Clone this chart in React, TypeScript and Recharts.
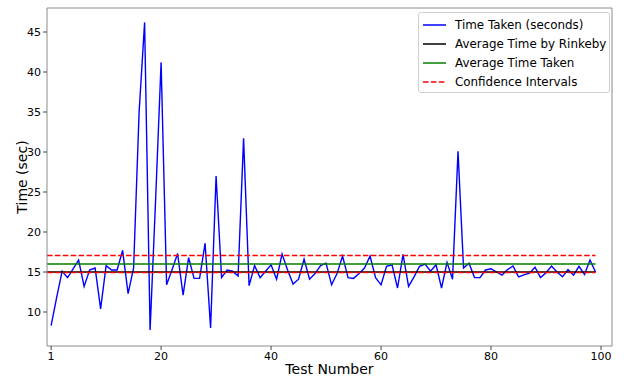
import React from "react";
import { LineChart, Line, XAxis, YAxis, ReferenceLine, Legend } from "recharts";

const testIndex: number[] = Array.from({ length: 100 }, (_, i) => i);

const timeTaken: number[] = [
  8.3, 11.8, 15.1, 14.3, 15.4, 16.5, 13.2, 15.25, 15.5, 10.4,
  15.8, 15.25, 15.25, 17.7, 12.3, 15.5, 35.0, 46.2, 7.75, 24.0,
  41.2, 13.4, 15.3, 17.3, 12.1, 16.8, 14.2, 14.2, 18.6, 8.0,
  27.0, 14.3, 15.25, 15.1, 14.5, 31.7, 13.3, 15.8, 14.3, 15.1,
  15.9, 14.1, 17.25, 15.25, 13.5, 14.1, 16.6, 14.1, 14.8, 15.8,
  16.1, 13.4, 14.8, 17.0, 14.3, 14.2, 14.8, 15.5, 17.0, 14.3,
  13.4, 15.7, 15.9, 13.0, 17.2, 13.2, 14.4, 15.7, 16.0, 15.1,
  15.9, 13.0, 16.2, 14.1, 30.1, 15.5, 16.1, 14.3, 14.3, 15.25,
  15.4, 15.0, 14.6, 15.3, 15.75, 14.4, 14.65, 14.85, 15.6, 14.3,
  14.9, 15.75, 15.0, 14.4, 15.3, 14.6, 15.7, 14.7, 16.5, 15.0,
];

const avgRinkeby = 15.0;
const avgTaken = 16.0;
const confLower = 14.93;
const confUpper = 17.07;

const xTicks: number[] = [0, 20, 40, 60, 80, 100];
const xTickLabels: string[] = ["1", "20", "40", "60", "80", "100"];
const yTicks: number[] = [10, 15, 20, 25, 30, 35, 40, 45];

const xDomain: [number, number] = [-0.75, 102];
const yDomain: [number, number] = [5.75, 48];

const DASH = "5.5 2.4";

const legendItems = [
  { label: "Time Taken (seconds)", color: "#0000ff", dash: undefined as string | undefined },
  { label: "Average Time by Rinkeby", color: "#000000", dash: undefined as string | undefined },
  { label: "Average Time Taken", color: "#008000", dash: undefined as string | undefined },
  { label: "Confidence Intervals", color: "#ff0000", dash: DASH },
];

const data = testIndex.map((x, i) => ({ x, time: timeTaken[i] }));

const FONT = "DejaVu Sans, sans-serif";
const SPINE = "#8c8c8c";

const LegendBox = () => (
  <div
    style={{
      boxSizing: "border-box",
      border: "1px solid #d0d0d0",
      borderRadius: 3,
      background: "rgba(255,255,255,0.85)",
      padding: "2px 4px 2px 4px",
      fontFamily: FONT,
      fontSize: 11.9,
      color: "#000",
      width: 192,
      height: 81,
      textAlign: "left",
    }}
  >
    {legendItems.map((it) => (
      <div key={it.label} style={{ display: "flex", alignItems: "center", height: 19 }}>
        <svg width={23} height={10} style={{ marginRight: 9, flexShrink: 0, display: "block" }}>
          <line x1={0} y1={5} x2={23} y2={5} stroke={it.color} strokeWidth={1.5} strokeDasharray={it.dash} />
        </svg>
        <span style={{ whiteSpace: "nowrap" }}>{it.label}</span>
      </div>
    ))}
  </div>
);

const YLabel = (props: any) => {
  const vb = props.viewBox || { x: 0, y: 8, width: 47, height: 338 };
  const cx = vb.x + 22;
  const cy = vb.y + vb.height / 2;
  return (
    <text x={cx} y={cy} transform={`rotate(-90, ${cx}, ${cy})`} textAnchor="middle" dominantBaseline="central" fontFamily={FONT} fontSize={14} fill="#000">
      Time (sec)
    </text>
  );
};

const XLabel = (props: any) => {
  const vb = props.viewBox || { x: 47, y: 346, width: 565, height: 30 };
  const cx = vb.x + vb.width / 2;
  const cy = vb.y + 23;
  return (
    <text x={cx} y={cy} textAnchor="middle" dominantBaseline="central" fontFamily={FONT} fontSize={14} fill="#000">
      Test Number
    </text>
  );
};

export default function App() {
  return (
    <div style={{ position: "absolute", left: 0, top: 0, width: 624, height: 376, background: "#fff" }}>
      <LineChart width={624} height={376} data={data} margin={{ top: 8, right: 12, bottom: 0, left: 0 }}>
        <XAxis
          dataKey="x"
          type="number"
          domain={xDomain}
          ticks={xTicks}
          allowDataOverflow
          tickFormatter={(v: number) => xTickLabels[xTicks.indexOf(v)] ?? String(v)}
          height={30}
          tickSize={4}
          tickMargin={2}
          stroke={SPINE}
          tick={{ fill: "#000", fontSize: 11, fontFamily: FONT }}
          tickLine={{ stroke: "#444" }}
          label={<XLabel />}
        />
        <YAxis
          type="number"
          domain={yDomain}
          ticks={yTicks}
          allowDataOverflow
          width={47}
          tickSize={4}
          tickMargin={2}
          stroke={SPINE}
          tick={{ fill: "#000", fontSize: 11, fontFamily: FONT }}
          tickLine={{ stroke: "#444" }}
          label={<YLabel />}
        />
        <Line
          dataKey="time"
          stroke="#0000ff"
          strokeWidth={1.4}
          dot={false}
          isAnimationActive={false}
          type="linear"
        />
        <ReferenceLine segment={[{ x: xDomain[0], y: avgRinkeby }, { x: 99, y: avgRinkeby }]} stroke="#000" strokeWidth={1.5} />
        <ReferenceLine segment={[{ x: xDomain[0], y: avgTaken }, { x: 99, y: avgTaken }]} stroke="#008000" strokeWidth={1.5} />
        <ReferenceLine segment={[{ x: xDomain[0], y: confLower }, { x: 99, y: confLower }]} stroke="#ff0000" strokeWidth={1.5} strokeDasharray={DASH} />
        <ReferenceLine segment={[{ x: xDomain[0], y: confUpper }, { x: 99, y: confUpper }]} stroke="#ff0000" strokeWidth={1.5} strokeDasharray={DASH} />
        <ReferenceLine y={yDomain[1]} stroke={SPINE} strokeWidth={1} ifOverflow="extendDomain" />
        <ReferenceLine x={xDomain[1]} stroke={SPINE} strokeWidth={1} ifOverflow="extendDomain" />
        <Legend
          layout="vertical"
          align="center"
          verticalAlign="middle"
          content={<LegendBox />}
          wrapperStyle={{ left: 418, top: 12, width: 192, height: 81 }}
        />
      </LineChart>
    </div>
  );
}
